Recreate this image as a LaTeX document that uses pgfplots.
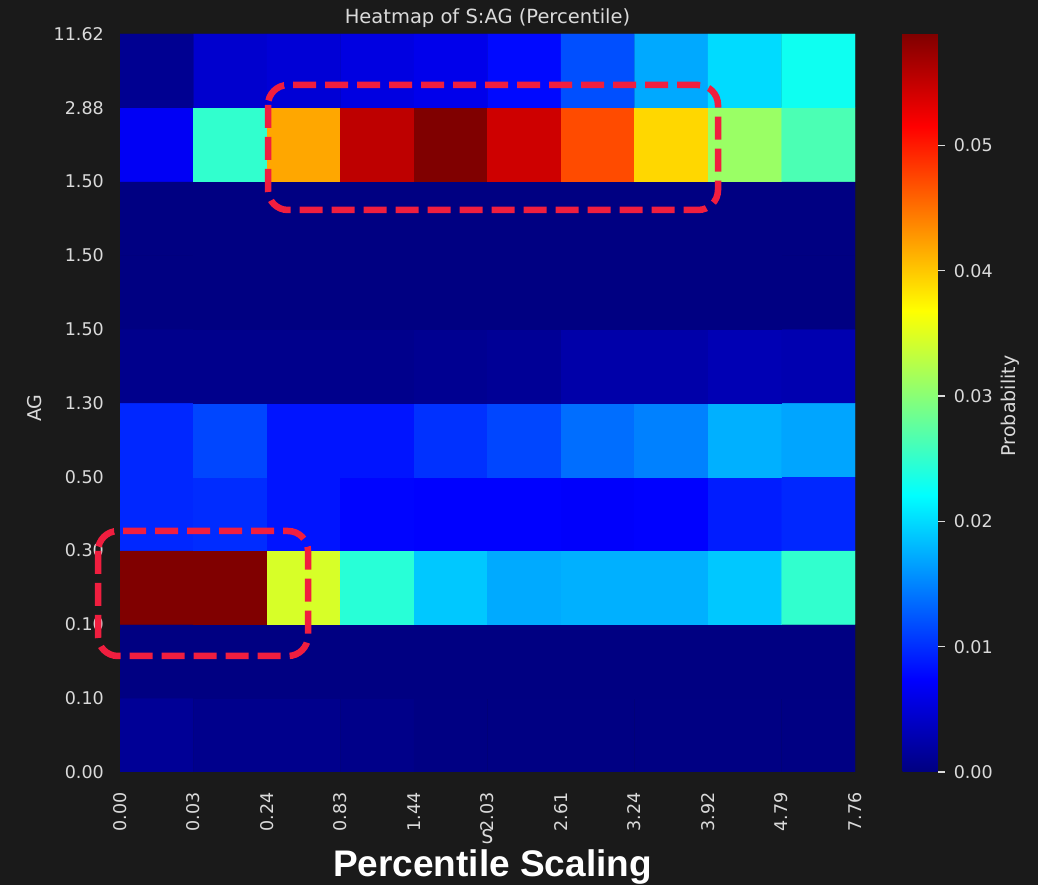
\documentclass[border=0pt]{standalone}
\usepackage{pgfplots}
\pgfplotsset{compat=1.18}
\usepackage{fontspec}
\setmainfont{DejaVu Sans}
\newfontfamily\boldlab{Liberation Sans}
\definecolor{bg}{HTML}{1A1A1A}
\definecolor{fg}{HTML}{DADADA}
\definecolor{ann}{HTML}{F01E3F}
\begin{document}
\begin{tikzpicture}[x=1pt,y=1pt]
\useasboundingbox (0,0) rectangle (1038,885);
\fill[bg] (0,0) rectangle (1038,885);
\begin{axis}[
  at={(120pt,113pt)}, anchor=south west,
  scale only axis, width=735pt, height=738pt,
  xmin=0, xmax=10, ymin=0, ymax=10, enlargelimits=false,
  axis line style={draw=none},
  major tick length=0pt,
  xtick={0,1,2,3,4,5,6,7,8,9,10},
  ytick={0,1,2,3,4,5,6,7,8,9,10},
  xticklabels={0.00,0.03,0.24,0.83,1.44,2.03,2.61,3.24,3.92,4.79,7.76},
  yticklabels={0.00,0.10,0.10,0.30,0.50,1.30,1.50,1.50,1.50,2.88,11.62},
  ticklabel style={font=\fontsize{17.5}{20}\selectfont, text=fg, inner sep=0pt},
  xticklabel style={rotate=90, anchor=east},
  yticklabel style={anchor=east},
  xticklabel shift=20pt, yticklabel shift=16pt,
  colormap/jet,
  point meta min=0, point meta max=0.0589,
  colorbar,
  colorbar/width=35pt,
  colorbar style={
    at={(parent axis.north east)}, anchor=north west, xshift=39pt,
    scale only axis, height=738pt,
    axis line style={draw=none},
    ytick={0,0.01,0.02,0.03,0.04,0.05},
    scaled y ticks=false,
    ytick pos=right,
    tick align=outside, major tick length=7pt,
    tick style={color=fg, line width=1.3pt},
    yticklabel style={font=\fontsize{17.5}{20}\selectfont, text=fg, inner sep=0pt,
      /pgf/number format/fixed, /pgf/number format/fixed zerofill,
      /pgf/number format/precision=2, /pgf/number format/assume math mode=true},
    yticklabel shift=9pt,
  },
]
\addplot[matrix plot*, mesh/cols=10, point meta=explicit] table[meta=c] {
x y c
0.5 0.5 0.0013
1.5 0.5 0.0007
2.5 0.5 0.0007
3.5 0.5 0.0005
4.5 0.5 0.0002
5.5 0.5 0.0002
6.5 0.5 0.0002
7.5 0.5 0.0002
8.5 0.5 0.0002
9.5 0.5 0.0002
0.5 1.5 0.0001
1.5 1.5 0.0001
2.5 1.5 0.0001
3.5 1.5 0.0001
4.5 1.5 0.0001
5.5 1.5 0.0001
6.5 1.5 0.0001
7.5 1.5 0.0001
8.5 1.5 0.0001
9.5 1.5 0.0001
0.5 2.5 0.0589
1.5 2.5 0.0589
2.5 2.5 0.0345
3.5 2.5 0.0244
4.5 2.5 0.0189
5.5 2.5 0.0172
6.5 2.5 0.0175
7.5 2.5 0.0175
8.5 2.5 0.0189
9.5 2.5 0.0249
0.5 3.5 0.0096
1.5 3.5 0.0099
2.5 3.5 0.0085
3.5 3.5 0.0076
4.5 3.5 0.0074
5.5 3.5 0.0074
6.5 3.5 0.0072
7.5 3.5 0.0074
8.5 3.5 0.0090
9.5 3.5 0.0096
0.5 4.5 0.0096
1.5 4.5 0.0114
2.5 4.5 0.0085
3.5 4.5 0.0085
4.5 4.5 0.0102
5.5 4.5 0.0114
6.5 4.5 0.0137
7.5 4.5 0.0148
8.5 4.5 0.0175
9.5 4.5 0.0169
0.5 5.5 0.0007
1.5 5.5 0.0007
2.5 5.5 0.0007
3.5 5.5 0.0007
4.5 5.5 0.0010
5.5 5.5 0.0013
6.5 5.5 0.0024
7.5 5.5 0.0024
8.5 5.5 0.0030
9.5 5.5 0.0028
0.5 6.5 0.0001
1.5 6.5 0.0001
2.5 6.5 0.0001
3.5 6.5 0.0001
4.5 6.5 0.0001
5.5 6.5 0.0001
6.5 6.5 0.0001
7.5 6.5 0.0001
8.5 6.5 0.0001
9.5 6.5 0.0001
0.5 7.5 0.0001
1.5 7.5 0.0001
2.5 7.5 0.0001
3.5 7.5 0.0001
4.5 7.5 0.0001
5.5 7.5 0.0001
6.5 7.5 0.0001
7.5 7.5 0.0001
8.5 7.5 0.0001
9.5 7.5 0.0001
0.5 8.5 0.0068
1.5 8.5 0.0249
2.5 8.5 0.0419
3.5 8.5 0.0553
4.5 8.5 0.0589
5.5 8.5 0.0544
6.5 8.5 0.0472
7.5 8.5 0.0391
8.5 8.5 0.0310
9.5 8.5 0.0264
0.5 9.5 0.0010
1.5 9.5 0.0045
2.5 9.5 0.0050
3.5 9.5 0.0056
4.5 9.5 0.0062
5.5 9.5 0.0079
6.5 9.5 0.0119
7.5 9.5 0.0171
8.5 9.5 0.0200
9.5 9.5 0.0229
};
\end{axis}
\node[font=\fontsize{19.5}{22}\selectfont, text=fg] at (487.5,867) {Heatmap of S:AG (Percentile)};
\node[font=\fontsize{19}{22}\selectfont, text=fg, rotate=90] at (35,477) {AG};
\node[font=\fontsize{19}{22}\selectfont, text=fg, rotate=90] at (1010,479) {Probability};
\node[font=\fontsize{19}{22}\selectfont, text=fg] at (487.5,48) {S};
\node[font=\boldlab\bfseries\fontsize{37}{40}\selectfont, text=white, fill=bg, inner xsep=2pt, inner ysep=1pt, anchor=base] at (492.5,8) {Percentile Scaling};
\draw[ann, line width=6.5pt, dash pattern=on 23pt off 9pt, rounded corners=20pt] (268,800) rectangle (718,675);
\draw[ann, line width=6.5pt, dash pattern=on 23pt off 9pt, rounded corners=20pt] (98,354) rectangle (308,229);
\end{tikzpicture}
\end{document}
